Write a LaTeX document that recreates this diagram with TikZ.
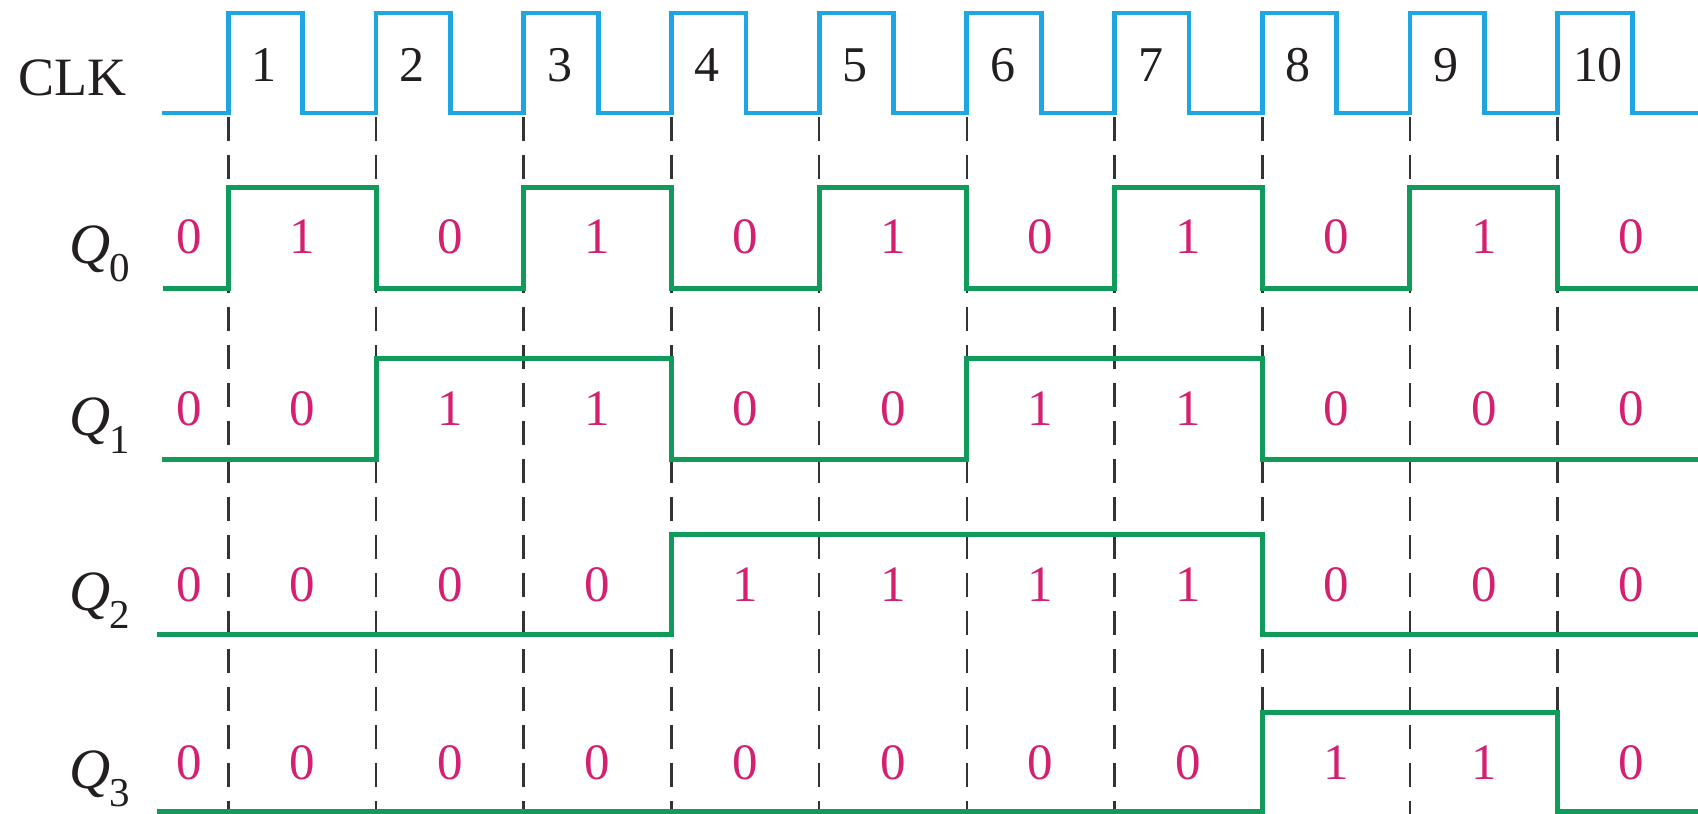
\documentclass[tikz,border=0pt]{standalone}
\usepackage{fontspec}
\setmainfont{Liberation Serif}
\definecolor{clkblue}{RGB}{30,166,224}
\definecolor{qgreen}{RGB}{16,155,90}
\definecolor{bitpink}{RGB}{212,32,112}
\definecolor{txt}{RGB}{35,31,32}
\newcommand\qlab[1]{\fontsize{57}{57}\selectfont\textit{Q}\kern-1pt\raisebox{-18pt}{\fontsize{41}{41}\selectfont #1}}
\begin{document}
\begin{tikzpicture}[x=1pt,y=-1pt,
  clkline/.style={clkblue,line width=4.8pt,line join=miter},
  qline/.style={qgreen,line width=5pt,line join=miter},
  guide/.style={black!80,line width=2.6pt,dash pattern=on 24pt off 14pt},
  bit/.style={bitpink,font=\fontsize{51}{51}\selectfont,inner sep=0pt,anchor=center},
  clknum/.style={txt,font=\fontsize{50}{50}\selectfont,inner sep=0pt,anchor=center},
  siglabel/.style={txt,inner sep=0pt,anchor=base west}]
\useasboundingbox (0,0) rectangle (1698,814);
\fill[white] (0,0) rectangle (1698,814);
% rising-edge coordinates
\foreach \k in {1,...,10}{
  \coordinate (r\k) at ({228.3+147.7*(\k-1)},0);
}
% dashed guide lines
\foreach \k in {1,...,10}{
  \draw[guide] (r\k |- 0,117) -- (r\k |- 0,814);
}
% clock
\draw[clkline] (162,113)
  foreach \k in {0,...,9} { -- ({228.3+147.7*\k},113) -- ({228.3+147.7*\k},13)
    -- ({302.8+147.7*\k},13) -- ({302.8+147.7*\k},113) } -- (1698,113);
% Q0
\draw[qline] (162.7,288)
  foreach \k in {0,2,...,8} { -- ({228.3+147.7*\k},288) -- ({228.3+147.7*\k},187)
    -- ({228.3+147.7*(\k+1)},187) -- ({228.3+147.7*(\k+1)},288) } -- (1698,288);
% Q1
\draw[qline] (162,459) -- (r2 |- 0,459) -- (r2 |- 0,358) -- (r4 |- 0,358) -- (r4 |- 0,459)
  -- (r6 |- 0,459) -- (r6 |- 0,358) -- (r8 |- 0,358) -- (r8 |- 0,459) -- (1698,459);
% Q2
\draw[qline] (157,634) -- (r4 |- 0,634) -- (r4 |- 0,534) -- (r8 |- 0,534) -- (r8 |- 0,634) -- (1698,634);
% Q3
\draw[qline] (157,811.5) -- (r8 |- 0,811.5) -- (r8 |- 0,712) -- (r10 |- 0,712) -- (r10 |- 0,811.5) -- (1698,811.5);
% labels
\node[siglabel,anchor=base,font=\fontsize{54}{54}\selectfont] (clk) at (72,95) {CLK};
\node[siglabel] (q0) at (69,263) {\qlab{0}};
\node[siglabel] (q1) at (69,435) {\qlab{1}};
\node[siglabel] (q2) at (69,610) {\qlab{2}};
\node[siglabel] (q3) at (69,788) {\qlab{3}};
% clock numbers
\foreach \k in {1,...,9}{
  \node[clknum] (n\k) at ([xshift=36pt]r\k |- 0,65) {\k};
}
\node[clknum] (n10) at ([xshift=40pt]r10 |- 0,65) {1\kern-1pt0};
% bit values
\foreach \row/\yy/\vals in {0/237/{0,1,0,1,0,1,0,1,0,1,0},
                            1/409/{0,0,1,1,0,0,1,1,0,0,0},
                            2/585/{0,0,0,0,1,1,1,1,0,0,0},
                            3/763/{0,0,0,0,0,0,0,0,1,1,0}}{
  \foreach \v [count=\j from 0] in \vals {
    \ifnum\j=0
      \node[bit] (b\row-\j) at (189,\yy) {\v};
    \else
      \node[bit] (b\row-\j) at ({302.2+147.7*(\j-1)},\yy) {\v};
    \fi
  }
}
\end{tikzpicture}
\end{document}
